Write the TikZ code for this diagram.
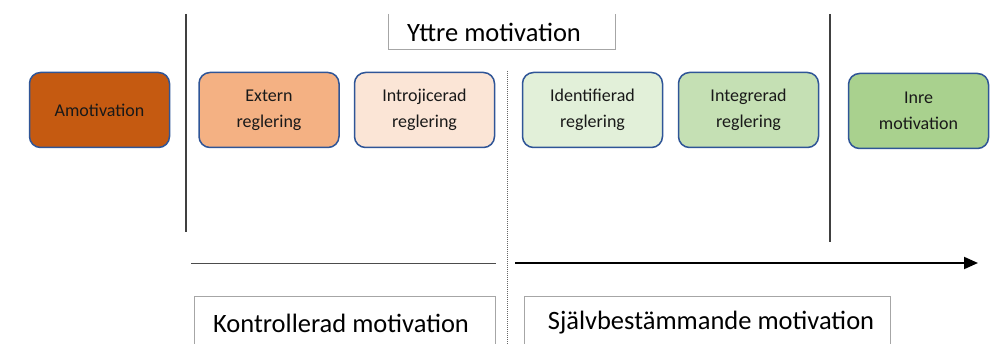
\documentclass[tikz,border=0pt]{standalone}
\usepackage{fontspec}
\setmainfont{Carlito}
\usetikzlibrary{arrows.meta}
\definecolor{bordblue}{HTML}{2F5597}
\definecolor{cAmo}{HTML}{C55A11}
\definecolor{cExt}{HTML}{F4B183}
\definecolor{cIntro}{HTML}{FBE5D6}
\definecolor{cIdent}{HTML}{E2F0D9}
\definecolor{cInteg}{HTML}{C5E0B4}
\definecolor{cInre}{HTML}{A9D18E}
\definecolor{lblgray}{HTML}{A6A6A6}
\tikzset{
  stage/.style={draw=bordblue, line width=1.5pt, rounded corners=11pt,
    minimum width=140pt, minimum height=75pt, inner sep=0pt, align=center,
    font=\fontsize{18}{26}\selectfont, text=black!90},
  divider/.style={draw=black!75, line width=1.2pt},
  lbl/.style={font=\fontsize{26.5}{28}\selectfont, inner sep=0pt},
  lblbox/.style={draw=lblgray, line width=1pt},
}
\begin{document}
\begin{tikzpicture}[x=1pt,y=-1pt]
\clip (0,0) rectangle (990,344);
\fill[white] (0,0) rectangle (990,344);
% stage boxes
\node[stage, fill=cAmo] (amo) at (99.5,110) {Amotivation};
\node[stage, fill=cExt] (ext) at (269,110) {Extern\\reglering};
\node[stage, fill=cIntro] (intro) at (424.5,110) {Introjicerad\\reglering};
\node[stage, fill=cIdent] (ident) at (592.5,110) {Identifierad\\reglering};
\node[stage, fill=cInteg] (integ) at (748.5,110) {Integrerad\\reglering};
\node[stage, fill=cInre] (inre) at (918.5,111) {Inre\\motivation};
% dividers
\coordinate (d1t) at (186,14); \coordinate (d1b) at (186,232);
\coordinate (d2t) at (830,14); \coordinate (d2b) at (830,242);
\draw[divider] (d1t) -- (d1b);
\draw[divider] (d2t) -- (d2b);
\coordinate (dott) at (507,71); \coordinate (dotb) at (507,344);
\draw[black!60, line width=1pt, dash pattern=on 1pt off 1pt] (dott) -- (dotb);
% Yttre motivation
\node[lbl] (yttre) at (494,32) {Yttre motivation};
\coordinate (ya) at (388,14); \coordinate (yb) at (388,50);
\coordinate (yc) at (615,50); \coordinate (yd) at (615,14);
\draw[lblbox] (ya) -- (yb) -- (yc) -- (yd);
% axis lines
\coordinate (h1a) at (191,263); \coordinate (h1b) at (496,263);
\draw[black!70, line width=0.8pt] (h1a) -- (h1b);
\coordinate (h2a) at (515,263); \coordinate (h2b) at (978,263);
\draw[black, line width=2pt, -{Triangle[length=14pt,width=12pt]}] (h2a) -- (h2b);
% bottom labels
\node[lbl] (kontr) at (341,323) {Kontrollerad motivation};
\coordinate (ka) at (194,350); \coordinate (kb) at (194,297);
\coordinate (kc) at (495,297); \coordinate (kd) at (495,350);
\draw[lblbox] (ka) -- (kb) -- (kc) -- (kd);
\node[lbl] (sjalv) at (711,323) {Självbestämmande motivation};
\coordinate (sa) at (524,350); \coordinate (sb) at (524,297);
\coordinate (sc) at (890,297); \coordinate (sd) at (890,350);
\draw[lblbox] (sa) -- (sb) -- (sc) -- (sd);
\end{tikzpicture}
\end{document}
